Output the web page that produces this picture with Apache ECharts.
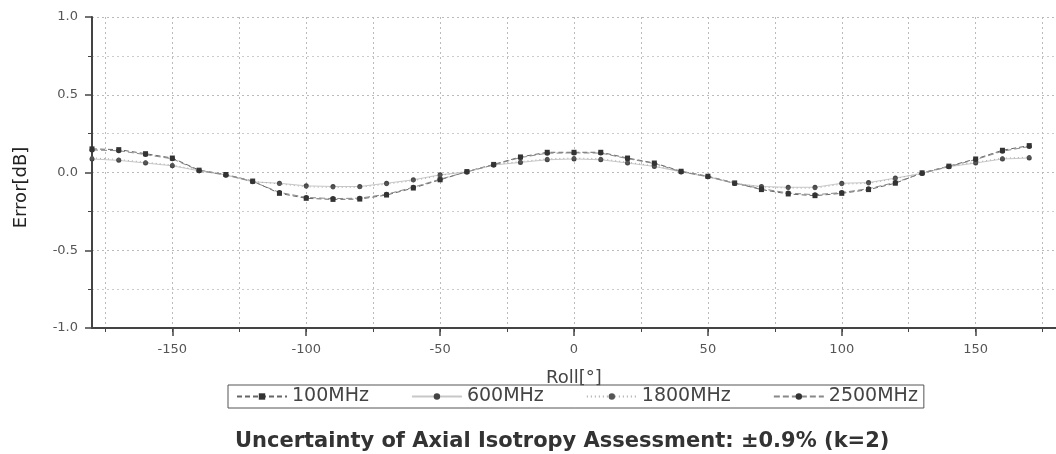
<!DOCTYPE html>
<html>
<head>
<meta charset="utf-8">
<script src="https://cdn.jsdelivr.net/npm/echarts@6/dist/echarts.min.js"></script>
<style>
html,body{margin:0;padding:0;background:#fff;}
#chart{width:1056px;height:454px;}
</style>
</head>
<body>
<div id="chart"></div>
<script>
const rollDeg = [-180,-170,-160,-150,-140,-130,-120,-110,-100,-90,-80,-70,-60,-50,-40,-30,-20,-10,0,10,20,30,40,50,60,70,80,90,100,110,120,130,140,150,160,170];
const seriesNames = ['100MHz','600MHz','1800MHz','2500MHz'];
const err100 = [0.152,0.147,0.121,0.093,0.015,-0.013,-0.055,-0.134,-0.166,-0.173,-0.171,-0.145,-0.100,-0.047,0.006,0.052,0.100,0.130,0.130,0.130,0.093,0.061,0.008,-0.024,-0.067,-0.110,-0.138,-0.149,-0.134,-0.110,-0.069,-0.002,0.041,0.087,0.143,0.173];
const err600 = [0.087,0.078,0.061,0.043,0.011,-0.017,-0.060,-0.069,-0.086,-0.090,-0.090,-0.069,-0.047,-0.015,0.004,0.048,0.065,0.082,0.087,0.082,0.061,0.039,0.004,-0.028,-0.071,-0.090,-0.095,-0.095,-0.069,-0.065,-0.036,-0.006,0.037,0.061,0.087,0.093];
const err1800 = [0.094,0.084,0.066,0.048,0.014,-0.014,-0.057,-0.074,-0.092,-0.096,-0.095,-0.075,-0.052,-0.020,0.008,0.051,0.070,0.088,0.093,0.088,0.066,0.043,0.007,-0.025,-0.068,-0.094,-0.100,-0.101,-0.075,-0.070,-0.040,-0.003,0.040,0.066,0.092,0.099];
const err2500 = [0.145,0.140,0.115,0.088,0.012,-0.016,-0.058,-0.128,-0.160,-0.168,-0.165,-0.140,-0.095,-0.043,0.004,0.049,0.096,0.124,0.126,0.125,0.089,0.058,0.005,-0.027,-0.070,-0.104,-0.132,-0.143,-0.129,-0.104,-0.064,-0.005,0.038,0.083,0.137,0.167];
const xGridTicks = [-175,-150,-125,-100,-75,-50,-25,0,25,50,75,100,125,150,175];
const xMajorTicks = [-150,-100,-50,0,50,100,150];
const titleText = 'Uncertainty of Axial Isotropy Assessment: \u00b10.9% (k=2)';

const pair = arr => rollDeg.map((x, i) => [x, arr[i]]);
const FONT = 'DejaVu Sans';

const chart = echarts.init(document.getElementById('chart'), null, {renderer: 'canvas'});
chart.setOption({
  animation: false,
  backgroundColor: '#ffffff',
  textStyle: {fontFamily: FONT},
  title: {
    text: titleText,
    left: 230, top: 426,
    textStyle: {fontFamily: FONT, fontSize: 21, fontWeight: 'bold', color: '#333'}
  },
  legend: {
    data: seriesNames,
    left: 228, top: 385,
    itemWidth: 50, itemHeight: 8, itemGap: 42,
    padding: [2, 6, 2, 8],
    borderColor: '#555', borderWidth: 1,
    textStyle: {fontFamily: FONT, fontSize: 19, color: '#444'}
  },
  grid: {left: 92, right: 0, top: 17, bottom: 126, containLabel: false},
  xAxis: [{
    type: 'value', min: -180, max: 180,
    name: 'Roll[\u00b0]', nameLocation: 'middle', nameGap: 41,
    nameTextStyle: {fontFamily: FONT, fontSize: 18, color: '#444'},
    axisLine: {onZero: false, lineStyle: {color: '#444', width: 2}},
    axisTick: {show: true, customValues: xGridTicks, length: 4, lineStyle: {color: '#444'}},
    axisLabel: {customValues: xMajorTicks, fontSize: 13, color: '#555', margin: 15},
    splitLine: {show: true, lineStyle: {color: '#bbb', type: [2, 3], width: 1}}
  }, {
    type: 'value', min: -180, max: 180, position: 'bottom', offset: 0,
    axisLine: {show: false, onZero: false},
    axisTick: {show: true, customValues: xMajorTicks, length: 8, lineStyle: {color: '#444', width: 1.5}},
    axisLabel: {show: false},
    splitLine: {show: false}
  }],
  yAxis: {
    type: 'value', min: -1, max: 1, interval: 0.5,
    name: 'Error[dB]', nameLocation: 'middle', nameGap: 62,
    nameTextStyle: {fontFamily: FONT, fontSize: 18, color: '#222', padding: [0, 30, 0, 0]},
    axisLine: {show: true, onZero: false, lineStyle: {color: '#444', width: 2}},
    axisTick: {show: true, length: 7, lineStyle: {color: '#444', width: 1.5}},
    minorTick: {show: true, splitNumber: 2, length: 4, lineStyle: {color: '#444'}},
    axisLabel: {fontSize: 13, color: '#555', margin: 14, formatter: v => v.toFixed(1)},
    splitLine: {show: true, lineStyle: {color: '#bbb', type: [2, 3], width: 1}},
    minorSplitLine: {show: true, lineStyle: {color: '#ccc', type: [2, 3], width: 1}}
  },
  series: [
    {name: '100MHz', type: 'line', data: pair(err100), symbol: 'rect', symbolSize: 5,
     itemStyle: {color: '#333'}, lineStyle: {color: '#666', width: 1, type: [5, 3]}},
    {name: '600MHz', type: 'line', data: pair(err600), symbol: 'circle', symbolSize: 5,
     itemStyle: {color: '#444'}, lineStyle: {color: '#c8c8c8', width: 1}},
    {name: '1800MHz', type: 'line', data: pair(err1800), symbol: 'circle', symbolSize: 4,
     itemStyle: {color: '#555'}, lineStyle: {color: '#aaa', width: 1, type: [1, 3]}},
    {name: '2500MHz', type: 'line', data: pair(err2500), symbol: 'circle', symbolSize: 5,
     itemStyle: {color: '#333'}, lineStyle: {color: '#888', width: 1, type: [6, 3]}}
  ]
});
</script>
</body>
</html>
